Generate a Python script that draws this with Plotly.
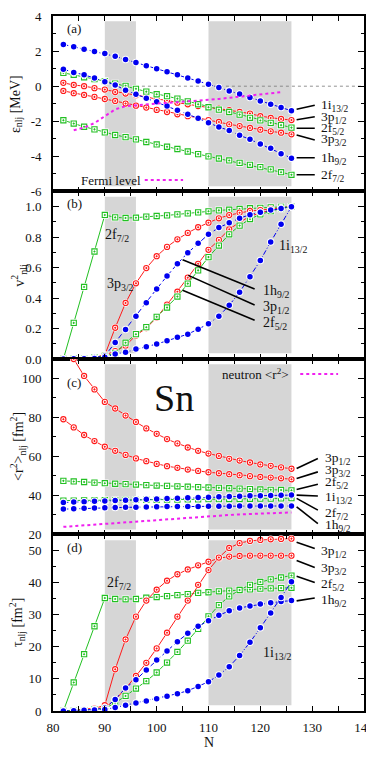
import plotly.graph_objects as go
from plotly.subplots import make_subplots

# ---------------- data ----------------
N = list(range(82, 127, 2))
N_fermi = list(range(84, 125, 2))
N_zero = [96, 140]
zero_line = [0, 0]

# (a) single-particle energies [MeV]
e_1i13 = [2.38, 2.25, 2.11, 1.98, 1.87, 1.70, 1.52, 1.35, 1.16, 0.99, 0.82, 0.65, 0.46, 0.29, 0.11, -0.08, -0.27, -0.44, -0.65, -0.84, -1.03, -1.22, -1.40]
e_3p12 = [0.19, 0.07, 0.00, -0.11, -0.19, -0.33, -0.42, -0.51, -0.61, -0.74, -0.80, -0.94, -1.03, -1.13, -1.22, -1.28, -1.37, -1.47, -1.56, -1.71, -1.81, -1.87, -1.93]
e_2f52 = [0.76, 0.65, 0.51, 0.40, 0.29, 0.15, 0.02, -0.15, -0.31, -0.46, -0.57, -0.71, -0.86, -1.03, -1.20, -1.34, -1.47, -1.62, -1.80, -1.95, -2.09, -2.22, -2.36]
e_3p32 = [-0.27, -0.40, -0.50, -0.61, -0.73, -0.84, -0.99, -1.11, -1.22, -1.35, -1.47, -1.60, -1.71, -1.83, -1.93, -2.04, -2.17, -2.27, -2.38, -2.48, -2.57, -2.65, -2.74]
e_1h9 = [0.97, 0.78, 0.65, 0.46, 0.26, 0.07, -0.23, -0.46, -0.69, -0.88, -1.13, -1.37, -1.60, -1.83, -2.08, -2.33, -2.52, -2.80, -3.03, -3.30, -3.54, -3.85, -4.10]
e_2f72 = [-1.94, -2.13, -2.31, -2.46, -2.63, -2.78, -2.90, -3.03, -3.18, -3.32, -3.45, -3.58, -3.72, -3.87, -4.00, -4.12, -4.23, -4.37, -4.48, -4.61, -4.74, -4.90, -5.05]
fermi = [-2.51, -2.36, -2.10, -1.72, -1.32, -1.14, -1.08, -1.03, -0.99, -0.95, -0.91, -0.88, -0.84, -0.79, -0.73, -0.66, -0.60, -0.53, -0.47, -0.40, -0.34]

# (b) occupation probabilities v^2
v_2f72 = [0.0, 0.237, 0.473, 0.706, 0.946, 0.930, 0.926, 0.928, 0.935, 0.939, 0.943, 0.950, 0.956, 0.963, 0.970, 0.976, 0.980, 0.985, 0.990, 0.993, 0.996, 0.998, 1.0]
v_3p32 = [0.0, 0.002, 0.004, 0.010, 0.026, 0.205, 0.368, 0.497, 0.597, 0.675, 0.736, 0.786, 0.828, 0.865, 0.895, 0.924, 0.945, 0.961, 0.972, 0.978, 0.985, 0.991, 1.0]
v_3p12 = [0.0, 0.002, 0.004, 0.010, 0.025, 0.052, 0.087, 0.155, 0.203, 0.272, 0.357, 0.442, 0.534, 0.625, 0.717, 0.782, 0.852, 0.898, 0.937, 0.959, 0.978, 0.991, 1.0]
v_2f52 = [0.0, 0.002, 0.004, 0.010, 0.020, 0.037, 0.107, 0.163, 0.209, 0.277, 0.338, 0.410, 0.495, 0.582, 0.669, 0.745, 0.819, 0.876, 0.919, 0.950, 0.972, 0.989, 1.0]
v_1h9 = [0.0, 0.002, 0.005, 0.010, 0.020, 0.109, 0.194, 0.281, 0.370, 0.460, 0.545, 0.625, 0.697, 0.760, 0.819, 0.863, 0.895, 0.924, 0.948, 0.963, 0.978, 0.989, 1.0]
v_1i13 = [0.0, 0.001, 0.002, 0.004, 0.011, 0.033, 0.044, 0.065, 0.081, 0.098, 0.120, 0.142, 0.163, 0.196, 0.231, 0.281, 0.353, 0.438, 0.540, 0.647, 0.769, 0.885, 1.0]

# (c) <r^2> [fm^2]
r_3p12 = [120.0, 110.0, 101.3, 94.4, 88.0, 84.6, 81.0, 77.7, 74.4, 71.6, 68.9, 66.7, 64.6, 62.9, 61.5, 60.3, 58.8, 57.9, 56.9, 55.9, 55.2, 54.4, 53.7]
r_3p32 = [79.1, 74.9, 71.0, 67.9, 65.0, 62.9, 60.8, 59.0, 57.6, 56.2, 55.0, 54.2, 53.3, 52.6, 51.9, 51.4, 50.9, 50.4, 49.9, 49.5, 49.2, 48.8, 48.3]
r_2f52 = [47.5, 47.2, 46.9, 46.6, 46.3, 46.0, 45.8, 45.6, 45.3, 45.1, 44.9, 44.7, 44.5, 44.3, 44.1, 43.9, 43.7, 43.5, 43.3, 43.1, 42.9, 42.8, 42.6]
r_2f72 = [37.4, 37.4, 37.5, 37.5, 37.6, 37.6, 37.7, 37.7, 37.8, 37.8, 37.9, 37.9, 38.0, 38.0, 38.1, 38.1, 38.2, 38.2, 38.3, 38.4, 38.4, 38.5, 38.6]
r_1i13 = [36.4, 36.6, 36.8, 37.0, 37.2, 37.4, 37.6, 37.8, 38.0, 38.2, 38.4, 38.6, 38.8, 39.0, 39.1, 39.3, 39.5, 39.6, 39.8, 39.9, 40.0, 40.1, 40.2]
r_1h9 = [33.0, 33.2, 33.4, 33.6, 33.7, 33.8, 33.9, 34.0, 34.1, 34.2, 34.3, 34.3, 34.4, 34.4, 34.5, 34.5, 34.5, 34.6, 34.6, 34.6, 34.6, 34.6, 34.6]
r_neutron = [23.9, 24.3, 24.7, 25.1, 25.5, 25.9, 26.3, 26.7, 27.1, 27.5, 27.9, 28.3, 28.7, 29.0, 29.4, 29.7, 30.0, 30.3, 30.5, 30.8, 31.0, 31.2, 31.3]

# (d) tau [fm^2]
t_2f72 = [0.0, 8.9, 17.7, 26.4, 35.2, 34.9, 34.8, 34.9, 35.3, 35.5, 35.8, 36.1, 36.4, 36.8, 37.0, 37.3, 37.5, 37.8, 37.9, 38.1, 38.2, 38.3, 38.4]
t_3p32 = [0.0, 0.2, 0.4, 0.8, 1.8, 13.0, 22.3, 29.4, 34.4, 37.8, 40.6, 42.6, 44.1, 45.4, 46.5, 47.6, 48.1, 48.3, 48.4, 48.4, 48.4, 48.4, 48.4]
t_3p12 = [0.0, 0.2, 0.4, 0.7, 1.0, 3.5, 7.0, 10.9, 15.0, 19.5, 24.4, 29.4, 34.4, 39.3, 43.9, 47.8, 50.8, 52.3, 53.0, 53.3, 53.5, 53.6, 53.7]
t_2f52 = [0.0, 0.1, 0.3, 0.5, 0.8, 2.5, 4.7, 7.0, 9.3, 12.0, 15.1, 18.4, 21.9, 25.6, 29.5, 33.0, 35.7, 37.7, 39.3, 40.2, 41.0, 41.6, 42.2]
t_1h9 = [0.0, 0.1, 0.3, 0.5, 0.9, 3.6, 7.2, 9.7, 12.8, 15.9, 18.7, 21.6, 24.2, 26.4, 28.1, 29.8, 31.2, 32.1, 32.7, 33.3, 33.7, 34.1, 34.4]
t_1i13 = [0.0, 0.1, 0.2, 0.3, 0.5, 1.1, 1.8, 2.5, 3.1, 3.8, 4.6, 5.4, 6.3, 7.6, 9.1, 11.2, 13.8, 17.3, 21.4, 25.9, 30.5, 35.4, 40.3]

# shaded N windows
shade_N = [(90, 96), (110, 126)]

# ---------------- styles ----------------
BLUE = '#0000f0'
RED = '#ff1a1a'
GREEN = '#22c022'
MAG = '#f020f0'
SHADE = '#d6d6d6'
FONT = 'Liberation Serif'
TXT = '#111111'

STYLE = {
    '1i': dict(c=BLUE, sym='circle', dash='5px,2px,1px,2px', filled=True),
    '1h': dict(c=BLUE, sym='circle', dash='5px,3px', filled=True),
    '3p1': dict(c=RED, sym='circle-dot', dash='solid', filled=False),
    '3p3': dict(c=RED, sym='circle-dot', dash='solid', filled=False),
    '2f5': dict(c=GREEN, sym='square-dot', dash='solid', filled=False),
    '2f7': dict(c=GREEN, sym='square-dot', dash='solid', filled=False),
}

fig = make_subplots(rows=4, cols=1, shared_xaxes=True, vertical_spacing=0)


def series(row, y, key):
    s = STYLE[key]
    fig.add_trace(go.Scatter(x=N, y=y, mode='lines',
                             line=dict(color=s['c'], width=1, dash=s['dash']),
                             hoverinfo='skip', showlegend=False), row=row, col=1)
    halo = 'square' if s['sym'].startswith('square') else 'circle'
    fig.add_trace(go.Scatter(x=N, y=y, mode='markers',
                             marker=dict(symbol=halo, size=7.5, color='white', line=dict(width=0)),
                             hoverinfo='skip', showlegend=False), row=row, col=1)
    if s['filled']:
        mk = dict(symbol='circle', size=5.5, color=s['c'], line=dict(width=0))
    else:
        mk = dict(symbol=s['sym'], size=5.2, color='white', line=dict(color=s['c'], width=1.1))
    fig.add_trace(go.Scatter(x=N, y=y, mode='markers', marker=mk,
                             hoverinfo='skip', showlegend=False), row=row, col=1)


# (a)
fig.add_trace(go.Scatter(x=N_zero, y=zero_line, mode='lines',
                         line=dict(color='#777777', width=0.8, dash='dot'),
                         hoverinfo='skip', showlegend=False), row=1, col=1)
for y, k in [(e_2f72, '2f7'), (e_3p32, '3p3'), (e_3p12, '3p1'), (e_2f52, '2f5'), (e_1h9, '1h'), (e_1i13, '1i')]:
    series(1, y, k)
fig.add_trace(go.Scatter(x=N_fermi, y=fermi, mode='lines',
                         line=dict(color=MAG, width=2, dash='dot'),
                         hoverinfo='skip', showlegend=False), row=1, col=1)

# (b)
for y, k in [(v_2f72, '2f7'), (v_3p32, '3p3'), (v_3p12, '3p1'), (v_2f52, '2f5'), (v_1h9, '1h'), (v_1i13, '1i')]:
    series(2, y, k)

# (c)
fig.add_trace(go.Scatter(x=N, y=r_neutron, mode='lines',
                         line=dict(color=MAG, width=2, dash='dot'),
                         hoverinfo='skip', showlegend=False), row=3, col=1)
for y, k in [(r_3p12, '3p1'), (r_3p32, '3p3'), (r_2f52, '2f5'), (r_2f72, '2f7'), (r_1i13, '1i'), (r_1h9, '1h')]:
    series(3, y, k)

# (d)
for y, k in [(t_2f72, '2f7'), (t_3p32, '3p3'), (t_3p12, '3p1'), (t_2f52, '2f5'), (t_1h9, '1h'), (t_1i13, '1i')]:
    series(4, y, k)

# ---------------- shading ----------------
shade_y = {1: (-5.7, 3.7), 2: (0.037, 1.065), 3: (22.6, 107.3), 4: (1.8, 53.2)}
shapes = []
for r, (y0, y1) in shade_y.items():
    xr = 'x' if r == 1 else f'x{r}'
    yr = 'y' if r == 1 else f'y{r}'
    for n0, n1 in shade_N:
        shapes.append(dict(type='rect', xref=xr, yref=yr, x0=n0, x1=n1, y0=y0, y1=y1,
                           fillcolor=SHADE, line=dict(width=0), layer='below'))

# ---------------- labels and connectors ----------------
annots = []


def lab(r, x, y, text, size=14, xanchor='left'):
    xr = 'x' if r == 1 else f'x{r}'
    yr = 'y' if r == 1 else f'y{r}'
    annots.append(dict(xref=xr, yref=yr, x=x, y=y, text=text, showarrow=False,
                       xanchor=xanchor, yanchor='middle',
                       font=dict(family=FONT, size=size, color=TXT)))


def seg(r, x0, y0, x1, y1, color='black', width=1.6, dash='solid'):
    xr = 'x' if r == 1 else f'x{r}'
    yr = 'y' if r == 1 else f'y{r}'
    shapes.append(dict(type='line', xref=xr, yref=yr, x0=x0, y0=y0, x1=x1, y1=y1,
                       line=dict(color=color, width=width, dash=dash), layer='above'))


S = {'1i': '1i<sub>13/2</sub>', '1h': '1h<sub>9/2</sub>', '3p1': '3p<sub>1/2</sub>',
     '3p3': '3p<sub>3/2</sub>', '2f5': '2f<sub>5/2</sub>', '2f7': '2f<sub>7/2</sub>'}

# panel labels
lab(1, 82.3, 3.3, '(a)', 13)
lab(2, 82.3, 1.02, '(b)', 13)
lab(3, 82.3, 97.8, '(c)', 13)
lab(4, 82.3, 50.8, '(d)', 13)

# (a) right labels
for k, ty, ly0, ly1 in [('1i', -1.12, -1.31, -1.09), ('3p1', -1.78, -1.91, -1.74),
                        ('2f5', -2.40, -2.40, -2.40), ('3p3', -3.02, -2.78, -3.07),
                        ('1h', -4.13, -4.08, -4.08), ('2f7', -5.10, -5.05, -5.05)]:
    seg(1, 127, ly0, 130.5, ly1)
    lab(1, 131.4, ty, S[k], 13.5)
lab(1, 85.0, -5.35, 'Fermi level', 13)
seg(1, 97.7, -5.35, 105.1, -5.35, color=MAG, width=2, dash='dot')

# (b) labels
lab(2, 89.6, 0.81, S['2f7'])
lab(2, 90.0, 0.49, S['3p3'])
lab(2, 123.2, 0.74, S['1i'])
for k, ty, x0, y0 in [('1h', 0.44, 105.0, 0.652), ('3p1', 0.335, 106.1, 0.549), ('2f5', 0.235, 105.0, 0.451)]:
    seg(2, x0, y0, 118.9, ty + 0.02)
    lab(2, 120.2, ty, S[k])

# (c) labels
for k, ty, ly0, ly1 in [('3p1', 58.8, 53.8, 59.0), ('3p3', 52.6, 48.7, 52.1),
                        ('2f5', 46.6, 43.1, 45.8), ('1i', 39.0, 40.2, 39.7),
                        ('2f7', 30.6, 38.5, 32.5), ('1h', 24.4, 34.2, 25.6)]:
    seg(3, 127, ly0, 131.1, ly1)
    lab(3, 132.0, ty, S[k], 13.5)
lab(3, 126.0, 102.3, 'neutron &lt;r<sup>2</sup>&gt;', 13, xanchor='right')
seg(3, 127.7, 102.3, 135.0, 102.3, color=MAG, width=2, dash='dot')
annots.append(dict(xref='x3', yref='y3', x=103.3, y=90, text='Sn', showarrow=False,
                   font=dict(family=FONT, size=38, color=TXT)))

# (d) labels
for k, ty, ly0, ly1 in [('3p1', 49.8, 52.6, 50.6), ('3p3', 44.4, 46.9, 44.7),
                        ('2f5', 39.5, 42.0, 40.0), ('1h', 34.5, 34.3, 35.2)]:
    seg(4, 127, ly0, 130.5, ly1)
    lab(4, 131.4, ty, S[k], 13.5)
lab(4, 90.0, 39.6, S['2f7'])
lab(4, 120.2, 17.8, S['1i'])

# axis titles
for r, t, xp in [(1, 'ε<sub>nlj</sub> [MeV]', -0.118), (2, 'v<sup>2</sup><sub>nlj</sub>', -0.108),
                 (3, '&lt;r<sup>2</sup>&gt;<sub>nlj</sub> [fm<sup>2</sup>]', -0.112),
                 (4, 'τ<sub>nlj</sub> [fm<sup>2</sup>]', -0.115)]:
    yr = 'y domain' if r == 1 else f'y{r} domain'
    annots.append(dict(xref='paper', yref=yr, x=xp, y=0.5, text=t, textangle=-90,
                       showarrow=False, xanchor='center', yanchor='middle',
                       font=dict(family=FONT, size=14, color=TXT)))
annots.append(dict(xref='paper', yref='paper', x=0.5, y=-0.045, text='N', showarrow=False,
                   xanchor='center', yanchor='middle', font=dict(family=FONT, size=14, color=TXT)))

# ---------------- axes ----------------
domains = {1: [0.7475, 1.0], 2: [0.5065, 0.7475], 3: [0.254, 0.5065], 4: [0.0, 0.254]}
common_ax = dict(showline=True, linecolor='black', linewidth=1.6, mirror='ticks', automargin=False,
                 ticks='inside', tickcolor='black', tickwidth=1, showgrid=False, zeroline=False,
                 tickfont=dict(family=FONT, size=13, color=TXT))
for r in range(1, 5):
    xa = 'xaxis' if r == 1 else f'xaxis{r}'
    fig.layout[xa].update(range=[80, 140], tickmode='linear', tick0=80, dtick=10, ticklen=5,
                          minor=dict(tick0=80, dtick=5, ticks='inside', ticklen=5, tickcolor='black'),
                          showticklabels=(r == 4), ticklabelstandoff=4, **common_ax)

fig.layout.yaxis.update(domain=domains[1], range=[-6, 4], tickmode='array',
                        tickvals=[-6, -4, -2, 0, 2, 4], ticktext=['-6', '-4', '-2', '0', '2', '4'],
                        ticklen=6, minor=dict(tickmode='array', tickvals=[-5, -3, -1, 1, 3],
                                              ticks='inside', ticklen=3.5, tickcolor='black'),
                        ticklabelstandoff=7, **common_ax)
fig.layout.yaxis2.update(domain=domains[2], range=[0, 1.1], tickmode='linear', tick0=0, dtick=0.2,
                         tickformat='.1f', ticklen=6,
                         minor=dict(dtick=0.1, tick0=0, ticks='inside', ticklen=3.5, tickcolor='black'),
                         ticklabelstandoff=7, **common_ax)
fig.layout.yaxis3.update(domain=domains[3], range=[20, 110], tickmode='linear', tick0=20, dtick=20,
                         ticklen=6, minor=dict(dtick=10, tick0=20, ticks='inside', ticklen=3.5, tickcolor='black'),
                         ticklabelstandoff=7, **common_ax)
fig.layout.yaxis4.update(domain=domains[4], range=[0, 55], tickmode='linear', tick0=0, dtick=10,
                         ticklen=6, minor=dict(dtick=5, tick0=0, ticks='inside', ticklen=3.5, tickcolor='black'),
                         ticklabelstandoff=7, **common_ax)

# the page body has an 8px default margin, so the figure is sized to fit inside it
fig.update_layout(width=366, height=756, margin=dict(l=45, r=10, t=8, b=53, autoexpand=False),
                  plot_bgcolor='white', paper_bgcolor='white', showlegend=False,
                  shapes=shapes, annotations=annots,
                  font=dict(family=FONT, size=13, color=TXT))

fig.write_html('out.html')
